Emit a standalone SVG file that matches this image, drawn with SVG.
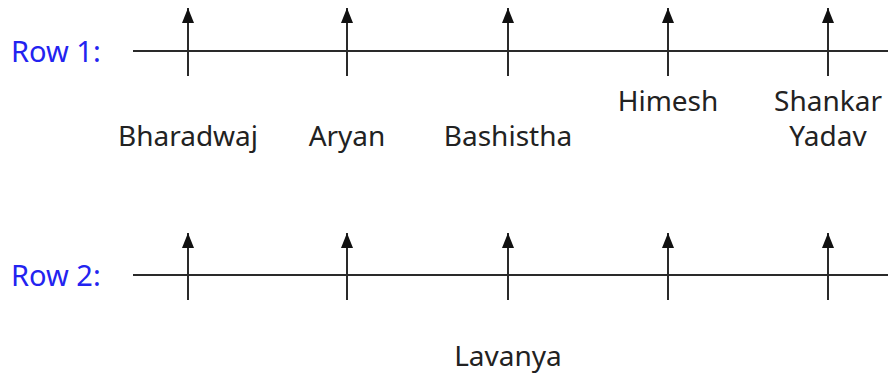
<svg xmlns="http://www.w3.org/2000/svg" width="892" height="379" viewBox="0 0 892 379">
<style>
.ln{stroke:#2a2a2a;stroke-width:2;fill:none}
.tk{stroke:#2a2a2a;stroke-width:2;fill:none;marker-end:url(#ah)}
.lbl{font-family:"Noto Sans","Open Sans",sans-serif;font-size:28px;fill:#222;text-anchor:middle}
.row{font-family:"Noto Sans","Open Sans",sans-serif;font-size:29px;fill:#2323f0}
</style>
<defs>
<marker id="ah" markerWidth="15" markerHeight="12" refX="15" refY="6" orient="auto" markerUnits="userSpaceOnUse" viewBox="0 0 15 12">
<path d="M0,0 L15,6 L0,12 Z" fill="#111"/>
</marker>
</defs>
<rect width="892" height="379" fill="#fff"/>
<g id="connectors">
<line class="ln" x1="133" y1="51" x2="888" y2="51"/>
<line class="ln" x1="133" y1="275" x2="888" y2="275"/>
<line class="tk" x1="188" y1="76" x2="188" y2="8"/>
<line class="tk" x1="347" y1="76" x2="347" y2="8"/>
<line class="tk" x1="508" y1="76" x2="508" y2="8"/>
<line class="tk" x1="668" y1="76" x2="668" y2="8"/>
<line class="tk" x1="828" y1="76" x2="828" y2="8"/>
<line class="tk" x1="188" y1="300" x2="188" y2="233"/>
<line class="tk" x1="347" y1="300" x2="347" y2="233"/>
<line class="tk" x1="508" y1="300" x2="508" y2="233"/>
<line class="tk" x1="668" y1="300" x2="668" y2="233"/>
<line class="tk" x1="828" y1="300" x2="828" y2="233"/>
</g>
<g id="row1-label"><text class="row" x="11" y="62">Row 1:</text></g>
<g id="row2-label"><text class="row" x="11" y="286">Row 2:</text></g>
<g id="bharadwaj"><text class="lbl" x="188" y="146">Bharadwaj</text></g>
<g id="aryan"><text class="lbl" x="347" y="146">Aryan</text></g>
<g id="bashistha"><text class="lbl" x="508" y="146">Bashistha</text></g>
<g id="himesh"><text class="lbl" x="668" y="111">Himesh</text></g>
<g id="shankar-yadav"><text class="lbl" x="828" y="111">Shankar</text><text class="lbl" x="828" y="146">Yadav</text></g>
<g id="lavanya"><text class="lbl" x="508" y="366">Lavanya</text></g>
</svg>
